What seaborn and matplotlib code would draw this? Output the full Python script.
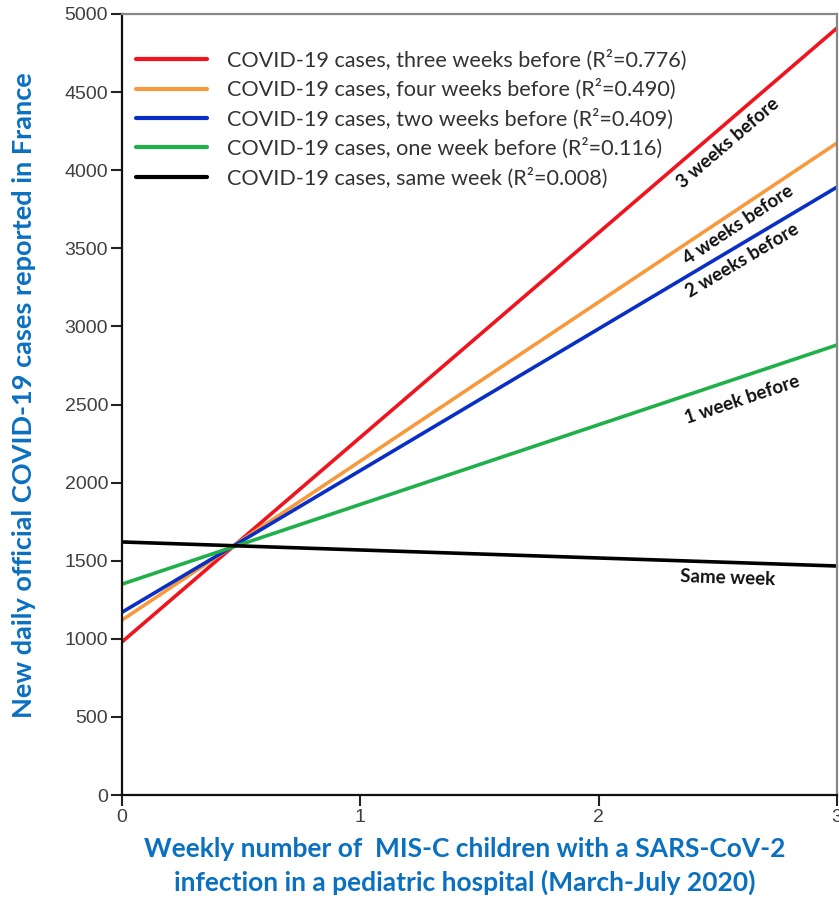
import numpy as np
import pandas as pd
import matplotlib
matplotlib.use("Agg")
import matplotlib.pyplot as plt
import seaborn as sns

# ---- data ----
x_points = [0, 3]
series_names = [
    "COVID-19 cases, three weeks before (R²=0.776)",
    "COVID-19 cases, four weeks before (R²=0.490)",
    "COVID-19 cases, two weeks before (R²=0.409)",
    "COVID-19 cases, one week before (R²=0.116)",
    "COVID-19 cases, same week (R²=0.008)",
]
three_weeks = [980, 4910]
four_weeks = [1120, 4174]
two_weeks = [1170, 3892]
one_week = [1350, 2881]
same_week = [1620, 1466]
series_colors = ["#f0141e", "#f79a3e", "#0a2fc4", "#1fb04a", "#000000"]
line_labels = ["3 weeks before", "4 weeks before", "2 weeks before", "1 week before", "Same week"]
label_x = [2.543, 2.585, 2.601, 2.601, 2.543]
label_y = [4174, 3649, 3425, 2529, 1389]
y_ticks = [0, 500, 1000, 1500, 2000, 2500, 3000, 3500, 4000, 4500, 5000]
x_ticks = [0, 1, 2, 3]

all_vals = [three_weeks, four_weeks, two_weeks, one_week, same_week]
rows = []
for name, vals in zip(series_names, all_vals):
    for xv, yv in zip(x_points, vals):
        rows.append({"x": xv, "y": yv, "series": name})
df = pd.DataFrame(rows)

sns.set_style("ticks")
plt.rcParams["font.family"] = ["Lato", "DejaVu Sans"]

fig = plt.figure(figsize=(8.39, 9.02), dpi=100)
ax = fig.add_axes([122 / 839, 107 / 902, 715 / 839, 781 / 902])

palette = dict(zip(series_names, series_colors))
sns.lineplot(data=df, x="x", y="y", hue="series", hue_order=series_names,
             palette=palette, linewidth=2.6, ax=ax)

ax.set_xlim(0, 3)
ax.set_ylim(0, 5000)
ax.set_xticks(x_ticks)
ax.set_yticks(y_ticks)
ax.set_xticklabels([str(v) for v in x_ticks], fontsize=14, color="#404040",
                   family=["Liberation Sans"])
ax.set_yticklabels([str(v) for v in y_ticks], fontsize=14, color="#404040",
                   family=["Liberation Sans"])
ax.tick_params(axis="both", direction="out", length=8, width=1.5, color="#222222", pad=2)

for s in ["left", "bottom"]:
    ax.spines[s].set_color("#111111")
    ax.spines[s].set_linewidth(1.6)
for s in ["top", "right"]:
    ax.spines[s].set_color("#888888")
    ax.spines[s].set_linewidth(1.6)

ax.set_xlabel("Weekly number of  MIS-C children with a SARS-CoV-2\ninfection in a pediatric hospital (March-July 2020)",
              fontsize=19, fontweight="bold", color="#0a70c0", linespacing=1.4)
ax.xaxis.set_label_coords(0.48, -0.054)
ax.set_ylabel("New daily official COVID-19 cases reported in France",
              fontsize=19.5, fontweight="bold", color="#0a70c0")
ax.yaxis.set_label_coords(-0.12, 0.512)

leg = ax.legend(loc="upper left", bbox_to_anchor=(-0.011, 0.982), frameon=False,
                fontsize=15.6, handlelength=3.3, handletextpad=0.9,
                labelspacing=0.38, borderaxespad=0.6)
for line in leg.get_lines():
    line.set_linewidth(3)
for t in leg.get_texts():
    t.set_color("#333333")

# rotated annotations along each line
for vals, lab, lx, ly in zip(all_vals, line_labels, label_x, label_y):
    p0 = ax.transData.transform((x_points[0], vals[0]))
    p1 = ax.transData.transform((x_points[1], vals[1]))
    ang = np.degrees(np.arctan2(p1[1] - p0[1], p1[0] - p0[0]))
    ax.text(lx, ly, lab, rotation=ang, rotation_mode="anchor",
            ha="center", va="center", fontsize=13.5, fontweight="bold",
            color="#111111")

fig.savefig("out.png", dpi=100)
